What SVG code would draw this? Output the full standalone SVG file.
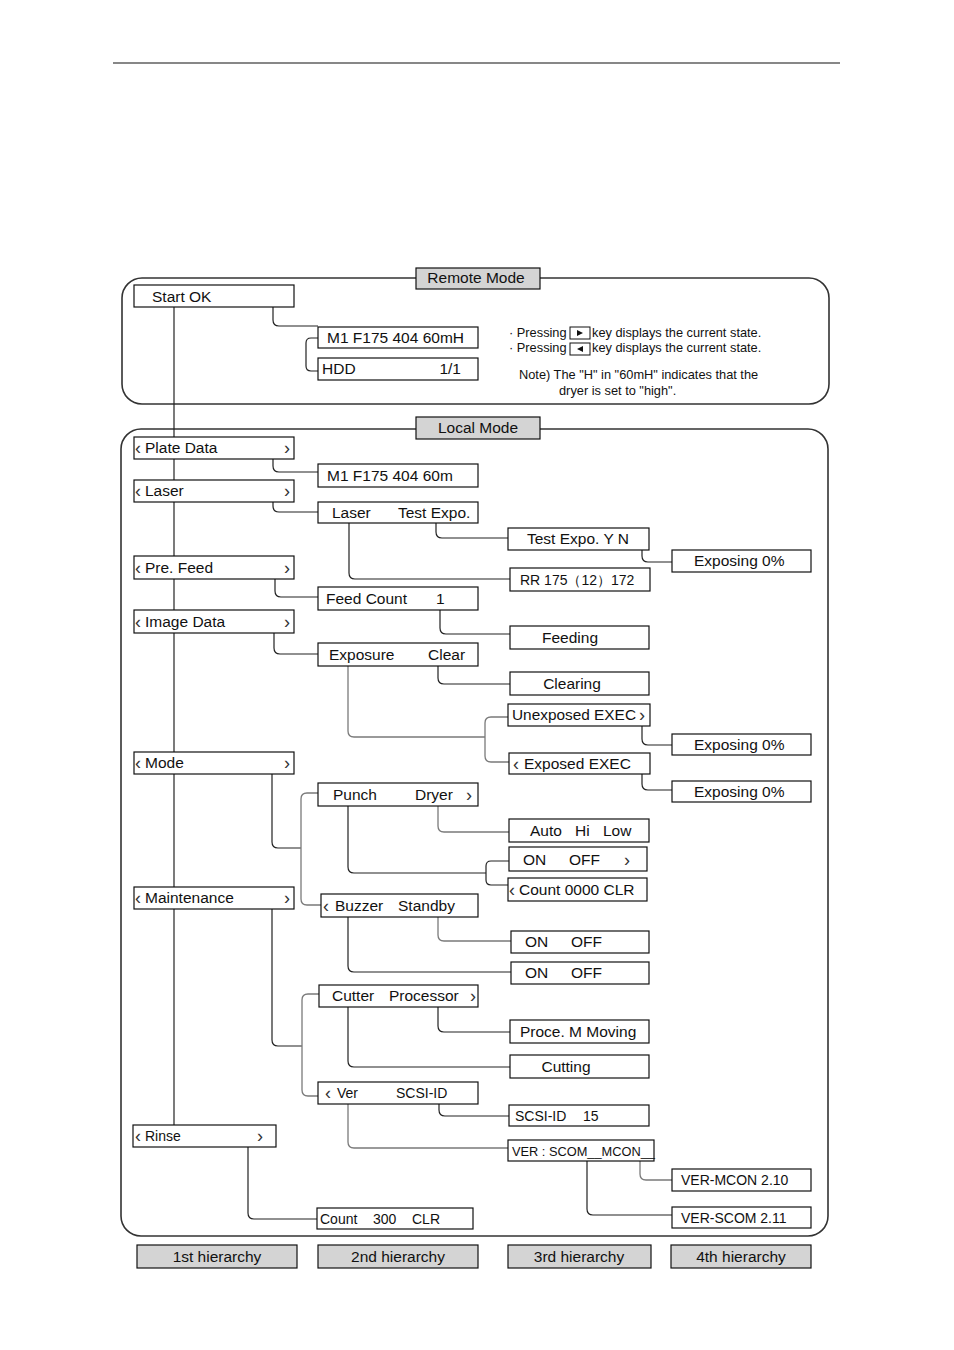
<svg xmlns="http://www.w3.org/2000/svg" width="954" height="1350" viewBox="0 0 954 1350">
<style>
text{font-family:"Liberation Sans",Arial,sans-serif;fill:#111}
.t{font-size:15.5px}
.s{font-size:14px}
.xs{font-size:12.8px}
.a{font-size:18px;fill:#333}
.b{fill:#fff;stroke:#111;stroke-width:1.2}
.lab{fill:#d4d4d4;stroke:#111;stroke-width:1.2}
.frame{fill:none;stroke:#333;stroke-width:1.6}
.c path{fill:none;stroke:#222;stroke-width:1.2}
.c path.g{stroke:#7a7a7a;stroke-width:1.3}
.m{text-anchor:middle}
.e{text-anchor:end}
</style>
<rect width="954" height="1350" fill="#fff"/>
<line x1="113" y1="63" x2="840" y2="63" stroke="#111" stroke-width="1.2"/>

<!-- frames -->
<g id="remote-frame">
<rect class="frame" x="122" y="278" width="707" height="126" rx="20"/>
<rect class="lab" x="416" y="268" width="124" height="21"/>
<text class="t m" x="476" y="283">Remote Mode</text>
</g>
<g id="local-frame">
<rect class="frame" x="121" y="429" width="707" height="807" rx="20"/>
<rect class="lab" x="416" y="417" width="124" height="22"/>
<text class="t m" x="478" y="433">Local Mode</text>
</g>

<!-- connectors -->
<g class="c" id="connectors">
<path d="M174 307V1125"/>
<path d="M273 307V320Q273 326 279 326H318"/>
<path d="M318 338H311Q306 338 306 343V366Q306 371 311 371H318"/>
<path d="M273 459V466Q273 472 279 472H318"/>
<path d="M273 502V506Q273 512 279 512H318"/>
<path d="M275 579V591Q275 597 281 597H318"/>
<path d="M274 633V648Q274 654 280 654H318"/>
<path d="M272 774V842Q272 848 278 848H301"/>
<path class="g" d="M318 793H307Q301 793 301 799V899Q301 905 307 905H321"/>
<path d="M272 909V1040Q272 1046 278 1046H302"/>
<path class="g" d="M319 994H308Q302 994 302 1000V1090Q302 1096 308 1096H318"/>
<path d="M248 1147V1213Q248 1219 254 1219H317"/>
<path d="M436 523V532Q436 538 442 538H508"/>
<path d="M349 523V573Q349 579 355 579H510"/>
<path d="M642 550V556Q642 562 648 562H672"/>
<path d="M440 610V628Q440 634 446 634H510"/>
<path d="M438 666V678Q438 684 444 684H510"/>
<path class="g" d="M348 666V731Q348 737 354 737H485"/>
<path class="g" d="M508 717H491Q485 717 485 723V756Q485 762 491 762H509"/>
<path d="M642 726V739Q642 745 648 745H672"/>
<path d="M642 774V784Q642 790 648 790H672"/>
<path class="g" d="M438 806V826Q438 832 444 832H509"/>
<path d="M348 806V867Q348 873 354 873H486"/>
<path d="M509 861H491Q486 861 486 866V880Q486 885 491 885H508"/>
<path class="g" d="M438 917V935Q438 941 444 941H511"/>
<path d="M348 917V966Q348 972 354 972H511"/>
<path d="M438 1007V1026Q438 1032 444 1032H510"/>
<path d="M348 1007V1061Q348 1067 354 1067H510"/>
<path d="M439 1104V1110Q439 1116 445 1116H509"/>
<path class="g" d="M348 1104V1142Q348 1148 354 1148H508"/>
<path class="g" d="M640 1161V1174Q640 1180 646 1180H672"/>
<path d="M587 1161V1209Q587 1215 593 1215H672"/>
</g>

<!-- remote mode nodes -->
<g id="start-ok"><rect class="b" x="134" y="285" width="160" height="22"/><text class="t" x="152" y="302">Start OK</text></g>
<g id="r-m1"><rect class="b" x="318" y="327" width="160" height="21"/><text class="t" x="327" y="343">M1 F175 404 60mH</text></g>
<g id="r-hdd"><rect class="b" x="318" y="358" width="160" height="22"/><text class="t" x="322" y="374">HDD</text><text class="t e" x="461" y="374">1/1</text></g>

<g id="notes">
<text class="xs" x="509" y="337">· Pressing</text>
<rect x="570" y="327" width="20" height="12" fill="#fff" stroke="#111" stroke-width="1"/>
<polygon points="577,330 577,336 583,333" fill="#111"/>
<text class="xs" x="592" y="337">key displays the current state.</text>
<text class="xs" x="509" y="352">· Pressing</text>
<rect x="570" y="343" width="20" height="12" fill="#fff" stroke="#111" stroke-width="1"/>
<polygon points="583,346 583,352 577,349" fill="#111"/>
<text class="xs" x="592" y="352">key displays the current state.</text>
<text class="xs" x="519" y="379">Note)  The "H" in "60mH" indicates that the</text>
<text class="xs" x="559" y="395">dryer is set to "high".</text>
</g>

<!-- 1st hierarchy -->
<g id="plate-data"><rect class="b" x="134" y="437" width="160" height="22"/><text class="a" x="135" y="454">‹</text><text class="t" x="145" y="453">Plate Data</text><text class="a" x="284" y="454">›</text></g>
<g id="laser"><rect class="b" x="134" y="480" width="160" height="22"/><text class="a" x="135" y="497">‹</text><text class="t" x="145" y="496">Laser</text><text class="a" x="284" y="497">›</text></g>
<g id="pre-feed"><rect class="b" x="134" y="556" width="160" height="23"/><text class="a" x="135" y="574">‹</text><text class="t" x="145" y="573">Pre. Feed</text><text class="a" x="284" y="574">›</text></g>
<g id="image-data"><rect class="b" x="134" y="610" width="160" height="23"/><text class="a" x="135" y="628">‹</text><text class="t" x="145" y="627">Image Data</text><text class="a" x="284" y="628">›</text></g>
<g id="mode"><rect class="b" x="134" y="752" width="160" height="22"/><text class="a" x="135" y="769">‹</text><text class="t" x="145" y="768">Mode</text><text class="a" x="284" y="769">›</text></g>
<g id="maintenance"><rect class="b" x="134" y="887" width="160" height="22"/><text class="a" x="135" y="904">‹</text><text class="t" x="145" y="903">Maintenance</text><text class="a" x="284" y="904">›</text></g>
<g id="rinse"><rect class="b" x="133" y="1125" width="143" height="22"/><text class="a" x="135" y="1142">‹</text><text class="s" x="145" y="1141">Rinse</text><text class="a" x="257" y="1142">›</text></g>

<!-- 2nd hierarchy -->
<g id="l-m1"><rect class="b" x="318" y="464" width="160" height="23"/><text class="t" x="327" y="481">M1 F175 404 60m</text></g>
<g id="laser-test"><rect class="b" x="318" y="502" width="160" height="21"/><text class="t" x="332" y="518">Laser</text><text class="t" x="398" y="518">Test Expo.</text></g>
<g id="feed-count"><rect class="b" x="318" y="587" width="160" height="23"/><text class="t" x="326" y="604">Feed Count</text><text class="t" x="436" y="604">1</text></g>
<g id="exposure-clear"><rect class="b" x="318" y="643" width="160" height="23"/><text class="t" x="329" y="660">Exposure</text><text class="t" x="428" y="660">Clear</text></g>
<g id="punch-dryer"><rect class="b" x="318" y="783" width="160" height="23"/><text class="t" x="333" y="800">Punch</text><text class="t" x="415" y="800">Dryer</text><text class="a" x="466" y="801">›</text></g>
<g id="buzzer-standby"><rect class="b" x="321" y="894" width="157" height="23"/><text class="a" x="323" y="912">‹</text><text class="t" x="335" y="911">Buzzer</text><text class="t" x="398" y="911">Standby</text></g>
<g id="cutter-processor"><rect class="b" x="319" y="985" width="159" height="22"/><text class="t" x="332" y="1001">Cutter</text><text class="t" x="389" y="1001">Processor</text><text class="a" x="470" y="1002">›</text></g>
<g id="ver-scsi"><rect class="b" x="318" y="1082" width="160" height="22"/><text class="a" x="325" y="1099">‹</text><text class="s" x="337" y="1098">Ver</text><text class="s" x="396" y="1098">SCSI-ID</text></g>
<g id="count-300"><rect class="b" x="317" y="1208" width="156" height="21"/><text class="s" x="320" y="1224">Count</text><text class="s" x="373" y="1224">300</text><text class="s" x="412" y="1224">CLR</text></g>

<!-- 3rd hierarchy -->
<g id="test-expo-yn"><rect class="b" x="508" y="528" width="141" height="22"/><text class="t" x="527" y="544">Test Expo. Y N</text></g>
<g id="rr"><rect class="b" x="510" y="568" width="140" height="23"/><text class="s" x="520" y="585">RR 175（12）172</text></g>
<g id="feeding"><rect class="b" x="510" y="626" width="139" height="23"/><text class="t m" x="570" y="643">Feeding</text></g>
<g id="clearing"><rect class="b" x="510" y="672" width="139" height="23"/><text class="t m" x="572" y="689">Clearing</text></g>
<g id="unexposed"><rect class="b" x="508" y="704" width="142" height="22"/><text class="t" x="512" y="720" textLength="124" lengthAdjust="spacingAndGlyphs">Unexposed EXEC</text><text class="a" x="639" y="721">›</text></g>
<g id="exposed"><rect class="b" x="509" y="753" width="141" height="21"/><text class="a" x="513" y="770">‹</text><text class="t" x="524" y="769">Exposed EXEC</text></g>
<g id="auto-hi-low"><rect class="b" x="509" y="819" width="140" height="23"/><text class="t" x="530" y="836">Auto</text><text class="t" x="575" y="836">Hi</text><text class="t" x="603" y="836">Low</text></g>
<g id="punch-on-off"><rect class="b" x="509" y="847" width="138" height="24"/><text class="t" x="523" y="865">ON</text><text class="t" x="569" y="865">OFF</text><text class="a" x="624" y="866">›</text></g>
<g id="count-0000"><rect class="b" x="508" y="878" width="139" height="23"/><text class="a" x="509" y="896">‹</text><text class="t" x="519" y="895">Count 0000 CLR</text></g>
<g id="standby-on-off"><rect class="b" x="511" y="931" width="138" height="22"/><text class="t" x="525" y="947">ON</text><text class="t" x="571" y="947">OFF</text></g>
<g id="buzzer-on-off"><rect class="b" x="511" y="962" width="138" height="22"/><text class="t" x="525" y="978">ON</text><text class="t" x="571" y="978">OFF</text></g>
<g id="proce-moving"><rect class="b" x="510" y="1020" width="139" height="23"/><text class="t" x="520" y="1037">Proce. M Moving</text></g>
<g id="cutting"><rect class="b" x="510" y="1055" width="139" height="23"/><text class="t m" x="566" y="1072">Cutting</text></g>
<g id="scsi-15"><rect class="b" x="509" y="1105" width="140" height="21"/><text class="s" x="515" y="1121">SCSI-ID</text><text class="s" x="583" y="1121">15</text></g>
<g id="ver-scom-mcon"><rect class="b" x="508" y="1140" width="146" height="21"/><text class="xs" x="512" y="1156">VER : SCOM__MCON__</text></g>

<!-- 4th hierarchy -->
<g id="exposing-1"><rect class="b" x="672" y="550" width="139" height="22"/><text class="t" x="694" y="566">Exposing 0%</text></g>
<g id="exposing-2"><rect class="b" x="672" y="734" width="139" height="21"/><text class="t" x="694" y="750">Exposing 0%</text></g>
<g id="exposing-3"><rect class="b" x="672" y="781" width="139" height="21"/><text class="t" x="694" y="797">Exposing 0%</text></g>
<g id="ver-mcon"><rect class="b" x="672" y="1169" width="139" height="22"/><text class="s" x="681" y="1185">VER-MCON 2.10</text></g>
<g id="ver-scom"><rect class="b" x="672" y="1207" width="139" height="21"/><text class="s" x="681" y="1223">VER-SCOM 2.11</text></g>

<!-- legend -->
<g id="h1"><rect class="lab" x="137" y="1245" width="160" height="23"/><text class="t m" x="217" y="1262">1st hierarchy</text></g>
<g id="h2"><rect class="lab" x="318" y="1245" width="160" height="23"/><text class="t m" x="398" y="1262">2nd hierarchy</text></g>
<g id="h3"><rect class="lab" x="508" y="1245" width="143" height="23"/><text class="t m" x="579" y="1262">3rd hierarchy</text></g>
<g id="h4"><rect class="lab" x="671" y="1245" width="140" height="23"/><text class="t m" x="741" y="1262">4th hierarchy</text></g>
</svg>
